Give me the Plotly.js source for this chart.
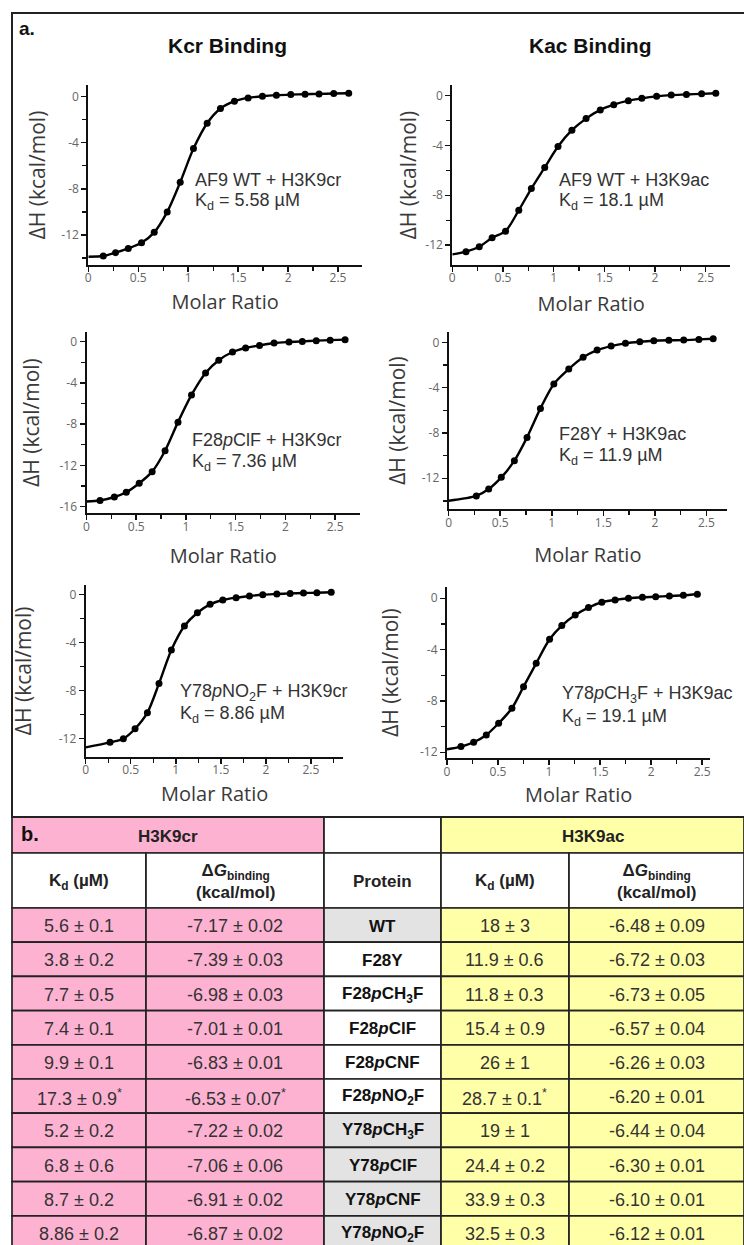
<!DOCTYPE html>
<html>
<head>
<meta charset="utf-8">
<script src="https://cdn.plot.ly/plotly-3.0.1.min.js"></script>
<style>html,body{margin:0;padding:0;background:#fff;}#chart{width:744px;height:1245px;}</style>
</head>
<body>
<div id="chart"></div>
<script>
// ---------- ITC data ----------
const kcrWtX = [0.15,0.273,0.40,0.533,0.66,0.79,0.92,1.053,1.19,1.323,1.463,1.6,1.743,1.883,2.027,2.17,2.31,2.457,2.607];
const kcrWtY = [-13.82,-13.53,-13.16,-12.67,-11.77,-10.0,-7.43,-4.51,-2.31,-1.04,-0.40,-0.12,0.03,0.12,0.17,0.2,0.23,0.26,0.29];
const kacWtX = [0.135,0.266,0.393,0.525,0.656,0.78,0.912,1.043,1.18,1.32,1.46,1.593,1.737,1.87,2.016,2.16,2.31,2.46,2.6];
const kacWtY = [-12.53,-12.13,-11.41,-10.88,-9.2,-7.46,-5.76,-4.08,-2.77,-1.84,-1.14,-0.72,-0.4,-0.21,-0.05,0.05,0.1,0.15,0.2];
const kcrClX = [0.136,0.28,0.40,0.53,0.66,0.79,0.92,1.056,1.197,1.33,1.468,1.6,1.74,1.886,2.036,2.17,2.31,2.45,2.6];
const kcrClY = [-15.4,-15.06,-14.6,-13.73,-12.6,-10.57,-7.8,-5.16,-3.03,-1.8,-1.0,-0.61,-0.36,-0.13,-0.03,0.03,0.1,0.15,0.2];
const kacF28YX = [0.268,0.388,0.51,0.637,0.76,0.89,1.02,1.165,1.304,1.44,1.576,1.715,1.854,1.99,2.136,2.28,2.427,2.566];
const kacF28YY = [-13.56,-12.95,-11.92,-10.45,-8.39,-5.83,-3.68,-2.36,-1.32,-0.68,-0.33,-0.09,0.05,0.14,0.18,0.2,0.26,0.32];
const kcrNO2X = [0.27,0.418,0.548,0.685,0.814,0.951,1.096,1.24,1.381,1.522,1.67,1.818,1.966,2.122,2.27,2.418,2.567,2.726];
const kcrNO2Y = [-12.33,-12.03,-11.2,-9.86,-7.42,-4.64,-2.64,-1.53,-0.83,-0.47,-0.28,-0.14,-0.03,0.03,0.08,0.11,0.14,0.17];
const kacCH3X = [0.137,0.261,0.385,0.506,0.636,0.75,0.874,1.005,1.125,1.256,1.386,1.517,1.647,1.778,1.915,2.045,2.179,2.316,2.453];
const kacCH3Y = [-11.56,-11.22,-10.65,-9.74,-8.57,-6.89,-5.07,-3.2,-2.13,-1.3,-0.73,-0.31,-0.13,0,0.08,0.12,0.18,0.23,0.31];
// fitted curve value at molar ratio 0
const fitStartY = [-13.88,-12.75,-15.5,-13.98,-12.75,-11.77];
const plotLabels = [
  "AF9 WT + H3K9cr","AF9 WT + H3K9ac",
  "F28<i>p</i>ClF + H3K9cr","F28Y + H3K9ac",
  "Y78<i>p</i>NO<sub>2</sub>F + H3K9cr","Y78<i>p</i>CH<sub>3</sub>F + H3K9ac"];
const plotKd = ["5.58","18.1","7.36","11.9","8.86","19.1"];
const columnTitles = ["Kcr Binding","Kac Binding"];
const xTickVals = [0,0.5,1,1.5,2,2.5];
const xTickText = ["0","0.5","1","1.5","2","2.5"];

// ---------- table data ----------
const proteins = ["WT","F28Y","F28<i>p</i>CH<sub>3</sub>F","F28<i>p</i>ClF","F28<i>p</i>CNF","F28<i>p</i>NO<sub>2</sub>F",
  "Y78<i>p</i>CH<sub>3</sub>F","Y78<i>p</i>ClF","Y78<i>p</i>CNF","Y78<i>p</i>NO<sub>2</sub>F"];
const kcrKd = ["5.6 ± 0.1","3.8 ± 0.2","7.7 ± 0.5","7.4 ± 0.1","9.9 ± 0.1","17.3 ± 0.9<sup>*</sup>","5.2 ± 0.2","6.8 ± 0.6","8.7 ± 0.2","8.86 ± 0.2"];
const kcrDG = ["-7.17 ± 0.02","-7.39 ± 0.03","-6.98 ± 0.03","-7.01 ± 0.01","-6.83 ± 0.01","-6.53 ± 0.07<sup>*</sup>","-7.22 ± 0.02","-7.06 ± 0.06","-6.91 ± 0.02","-6.87 ± 0.02"];
const kacKd = ["18 ± 3","11.9 ± 0.6","11.8 ± 0.3","15.4 ± 0.9","26 ± 1","28.7 ± 0.1<sup>*</sup>","19 ± 1","24.4 ± 0.2","33.9 ± 0.3","32.5 ± 0.3"];
const kacDG = ["-6.48 ± 0.09","-6.72 ± 0.03","-6.73 ± 0.05","-6.57 ± 0.04","-6.26 ± 0.03","-6.20 ± 0.01","-6.44 ± 0.04","-6.30 ± 0.01","-6.10 ± 0.01","-6.12 ± 0.01"];
const groupHeaders = ["H3K9cr","","H3K9ac"];
const colHeaders = ["K<sub>d</sub> (µM)","Δ<i>G</i><sub>binding</sub><br>(kcal/mol)","Protein","K<sub>d</sub> (µM)","Δ<i>G</i><sub>binding</sub><br>(kcal/mol)"];

// ---------- layout helpers ----------
const W = 744, H = 1245;
const px = v => v / W;
const py = v => 1 - v / H;
const PINK = "#FDB2D2", YEL = "#FFFFA8", GRAY = "#E3E3E3";
const SANS = "'Liberation Sans', Arial, sans-serif";
const AXF = "'Open Sans', Lato, sans-serif";

const series = [[kcrWtX,kcrWtY],[kacWtX,kacWtY],[kcrClX,kcrClY],[kacF28YX,kacF28YY],[kcrNO2X,kcrNO2Y],[kacCH3X,kacCH3Y]];
// subplot boxes in pixels: x0,x1,y0(top),y1(bottom)
const boxes = [
  [88.3,362,85,265],[452.3,730,85,265],
  [86.5,360,331.7,513.3],[448.7,727,331.7,509.3],
  [85.7,343.3,585,756.7],[447,710.3,586.7,758.3]];
const xr = [[0,2.74],[0,2.74],[0,2.75],[0,2.70],[0,2.86],[0,2.58]];
const yr = [[-14.6,1.0],[-13.6,0.86],[-16.64,0.97],[-14.74,0.94],[-13.53,0.78],[-12.47,0.9]];
const labelPos = [[193,180],[557,180],[190,440],[557,434],[178,692],[560,695]];
const xStand = [10,12,15,18,0,0];
const yStand = [10,3,14,10,21,16];
// bottom-row "Molar Ratio" titles are placed directly below their tick labels
const bottomTitleY = [null,null,null,null,793,794];

const traces = [];
const layout = {
  width: W, height: H, margin: {l:0,r:0,t:0,b:0},
  paper_bgcolor: "#fff", plot_bgcolor: "rgba(0,0,0,0)",
  showlegend: false, annotations: [], shapes: [],
  font: {family: AXF, color: "#444"}
};

series.forEach((s, i) => {
  const k = i === 0 ? "" : String(i + 1);
  const xa = "x" + k, ya = "y" + k;
  traces.push({
    type: "scatter", mode: "lines", xaxis: xa, yaxis: ya,
    x: [0].concat(s[0]), y: [fitStartY[i]].concat(s[1]),
    line: {color: "#000", width: 2.4, shape: "spline", smoothing: 0.8},
    hoverinfo: "skip", cliponaxis: false
  });
  traces.push({
    type: "scatter", mode: "markers", xaxis: xa, yaxis: ya,
    x: s[0], y: s[1], marker: {color: "#000", size: 7}, cliponaxis: false
  });
  const b = boxes[i];
  const yticks = yr[i][0] < -16 ? [0,-4,-8,-12,-16] : [0,-4,-8,-12];
  const xTitleFont = {size: 20, color: "#3a3a3a", family: AXF};
  layout["xaxis" + k] = {
    domain: [px(b[0]), px(b[1])], anchor: ya, range: xr[i],
    showline: true, linecolor: "#111", linewidth: 2, showgrid: false, zeroline: false,
    ticks: "outside", ticklen: 5, tickwidth: 1.5, tickcolor: "#111",
    tickvals: xTickVals, ticktext: xTickText, ticklabelstandoff: -4,
    minor: {ticks: "outside", ticklen: 4, tickwidth: 1.3, tickcolor: "#111", tickvals: [0.25,0.75,1.25,1.75,2.25,2.75].filter(v => v < xr[i][1])},
    tickfont: {size: 12, color: "#666", family: AXF},
    title: bottomTitleY[i] ? {text: ""} : {text: "Molar Ratio", font: xTitleFont, standoff: xStand[i]},
    fixedrange: true
  };
  if (bottomTitleY[i]) {
    layout.annotations.push({xref:"paper",yref:"paper",x:px((b[0]+b[1])/2),y:py(bottomTitleY[i]),
      xanchor:"center",yanchor:"middle",text:"Molar Ratio",showarrow:false,font:xTitleFont});
  }
  layout["yaxis" + k] = {
    domain: [py(b[3]), py(b[2])], anchor: xa, range: yr[i],
    showline: true, linecolor: "#111", linewidth: 2, showgrid: false, zeroline: false,
    ticks: "outside", ticklen: 5, tickwidth: 1.5, tickcolor: "#111",
    tickvals: yticks, ticktext: yticks.map(v => String(v)),
    minor: {ticks: "outside", ticklen: 4, tickwidth: 1.3, tickcolor: "#111", tickvals: [-2,-6,-10,-14].filter(v => v > yr[i][0])},
    tickfont: {size: 12, color: "#666", family: AXF},
    title: {text: "ΔH (kcal/mol)", font: {size: 21, color: "#3a3a3a", family: AXF}, standoff: yStand[i]},
    fixedrange: true
  };
  const lp = labelPos[i];
  layout.annotations.push({
    xref: "paper", yref: "paper", x: px(lp[0]), y: py(lp[1]), xanchor: "left", yanchor: "middle",
    text: plotLabels[i], showarrow: false, font: {family: SANS, size: 18, color: "#333"}
  });
  layout.annotations.push({
    xref: "paper", yref: "paper", x: px(lp[0]), y: py(lp[1] + 22), xanchor: "left", yanchor: "middle",
    text: "K<sub>d</sub> = " + plotKd[i] + " µM", showarrow: false, font: {family: SANS, size: 18, color: "#333"}
  });
});

// panel titles
layout.annotations.push({xref:"paper",yref:"paper",x:px(17),y:py(29),xanchor:"left",yanchor:"middle",text:"<b>a.</b>",showarrow:false,font:{family:SANS,size:19,color:"#111"}});
layout.annotations.push({xref:"paper",yref:"paper",x:px(227),y:py(45),xanchor:"center",yanchor:"middle",text:"<b>"+columnTitles[0]+"</b>",showarrow:false,font:{family:SANS,size:21,color:"#111"}});
layout.annotations.push({xref:"paper",yref:"paper",x:px(590),y:py(45),xanchor:"center",yanchor:"middle",text:"<b>"+columnTitles[1]+"</b>",showarrow:false,font:{family:SANS,size:21,color:"#111"}});

// panel a frame
layout.shapes.push({type:"rect",xref:"paper",yref:"paper",x0:px(12),x1:1.01,y0:py(817),y1:py(13),line:{color:"#222",width:2},fillcolor:"rgba(0,0,0,0)"});

// ---------- table b (cells built from the data arrays) ----------
const tblLeft = 12, tblTop = 817, groupH = 36, headH = 55, rowH = 34.2;
const groupW = [312, 117, 303];
const colW = [134, 178, 117, 128, 175];
const gridLine = {color: "#222", width: 1.7};
const edges = (ws) => ws.reduce((a, w) => { a.push(a[a.length - 1] + w); return a; }, [tblLeft]);
const gE = edges(groupW), cE = edges(colW);
const groupFill = [PINK, "#fff", YEL];
const colFill = [PINK, PINK, null, YEL, YEL];
const protFill = proteins.map(p => p.startsWith("F28") ? "#fff" : GRAY);
const columns = [kcrKd, kcrDG, proteins, kacKd, kacDG];
const cell = (x0, x1, y0, y1, fill) => layout.shapes.push({type:"rect",xref:"paper",yref:"paper",
  x0:px(x0),x1:px(x1),y0:py(y1),y1:py(y0),fillcolor:fill,line:gridLine,layer:"below"});

groupHeaders.forEach((g, j) => {
  cell(gE[j], gE[j+1], tblTop, tblTop + groupH, groupFill[j]);
  if (g) layout.annotations.push({xref:"paper",yref:"paper",x:px((gE[j]+gE[j+1])/2),y:py(tblTop + groupH/2 + 1),
    xanchor:"center",yanchor:"middle",text:"<b>"+g+"</b>",showarrow:false,font:{family:SANS,size:17,color:"#222"}});
});
layout.annotations.push({xref:"paper",yref:"paper",x:px(19),y:py(tblTop + 17),xanchor:"left",yanchor:"middle",text:"<b>b.</b>",showarrow:false,font:{family:SANS,size:20,color:"#111"}});
colHeaders.forEach((h, j) => {
  cell(cE[j], cE[j+1], tblTop + groupH, tblTop + groupH + headH, "#fff");
  layout.annotations.push({xref:"paper",yref:"paper",x:px((cE[j]+cE[j+1])/2),y:py(tblTop + groupH + headH/2 + 1),
    xanchor:"center",yanchor:"middle",text:"<b>"+h+"</b>",showarrow:false,
    font:{family:SANS,size:17,color:"#222"}});
});
columns.forEach((col, j) => {
  col.forEach((v, r) => {
    const top = tblTop + groupH + headH + r * rowH;
    cell(cE[j], cE[j+1], top, top + rowH, colFill[j] || protFill[r]);
    layout.annotations.push({xref:"paper",yref:"paper",x:px((cE[j]+cE[j+1])/2),
      y:py(top + rowH / 2 + 1),
      xanchor:"center",yanchor:"middle",showarrow:false,
      text: j === 2 ? "<b>" + v + "</b>" : v,
      font:{family:SANS,size: j === 2 ? 17 : 18,color: j === 2 ? "#111" : "#333"}});
  });
});

Plotly.newPlot("chart", traces, layout, {staticPlot: true, displayModeBar: false});
</script>
</body>
</html>
